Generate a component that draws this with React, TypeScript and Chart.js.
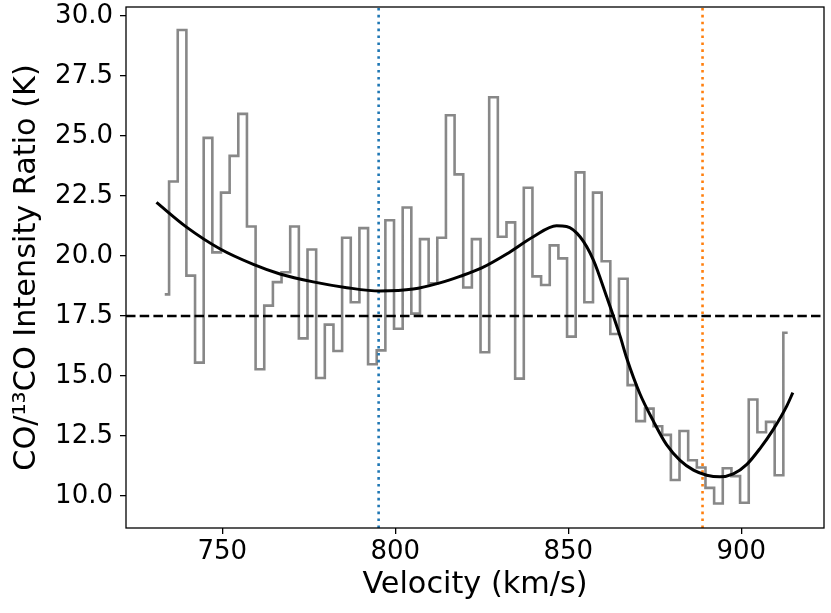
import { useEffect, useRef } from "react"
import { Chart, registerables } from "chart.js"

Chart.register(...registerables)

// velocity channels (km/s) and the measured intensity ratio per channel
const velocity = [
  733.4, 735.9, 738.4, 740.9, 743.4, 745.9, 748.4, 750.9, 753.4, 755.9,
  758.4, 760.9, 763.4, 765.9, 768.4, 770.9, 773.4, 775.9, 778.4, 780.9,
  783.4, 785.9, 788.4, 790.9, 793.4, 795.9, 798.4, 800.9, 803.4, 805.9,
  808.4, 810.9, 813.4, 815.9, 818.4, 820.9, 823.4, 825.9, 828.4, 830.9,
  833.4, 835.9, 838.4, 840.9, 843.4, 845.9, 848.4, 850.9, 853.4, 855.9,
  858.4, 860.9, 863.4, 865.9, 868.4, 870.9, 873.4, 875.9, 878.4, 880.9,
  883.4, 885.9, 888.4, 890.9, 893.4, 895.9, 898.4, 900.9, 903.4, 905.9,
  908.4, 910.9, 913.4,
]
const ratio = [
  18.4, 23.1, 29.41, 19.18, 15.56, 24.92, 20.15, 22.64, 24.17, 25.92,
  21.23, 15.28, 17.93, 18.91, 19.32, 21.23, 16.57, 20.27, 14.92, 17.14,
  16.04, 20.76, 18.07, 21.16, 15.49, 16.07, 21.49, 16.97, 22.02, 17.6,
  20.7, 18.86, 20.76, 25.86, 23.4, 18.69, 20.7, 15.99, 26.61, 20.8,
  21.4, 14.89, 22.84, 19.15, 18.79, 20.44, 19.9, 16.64, 23.48, 18.07,
  22.64, 19.78, 16.75, 19.05, 14.62, 13.12, 13.64, 12.91, 12.55, 10.67,
  12.71, 11.49, 11.19, 10.34, 9.69, 11.16, 10.83, 9.72, 14.02, 12.66,
  13.09, 10.87, 16.8,
]

// smooth fit
const fitVelocity = [
  731.0, 739.7, 749.3, 759.0, 766.7, 776.3, 786.0, 795.6, 805.2, 812.9,
  818.7, 825.0, 832.2, 839.9, 846.6, 849.5, 853.4, 857.2, 861.1, 865.0,
  866.9, 870.7, 874.6, 878.4, 882.3, 886.2, 890.0, 893.8, 897.7, 901.6,
  905.4, 909.3, 913.2, 914.9,
]
const fitRatio = [
  22.23, 21.2, 20.3, 19.65, 19.25, 18.92, 18.68, 18.54, 18.62, 18.88,
  19.15, 19.5, 20.08, 20.8, 21.26, 21.23, 20.8, 19.85, 18.3, 16.65,
  15.74, 14.26, 13.12, 12.14, 11.49, 11.08, 10.87, 10.8, 10.92, 11.32,
  11.98, 12.79, 13.77, 14.31,
]

const threshold = 17.5
const markerBlue = 795.2
const markerOrange = 888.8

const xTicks = [750, 800, 850, 900]
const yTicks = [10, 12.5, 15, 17.5, 20, 22.5, 25, 27.5, 30]
const xRange = [722.2, 923.9]
const yRange = [8.67, 30.37]

const FONT = "'DejaVu Sans', sans-serif"

export default function App() {
  const chartRef = useRef<HTMLCanvasElement>(null)
  const chartInstance = useRef<Chart | null>(null)

  useEffect(() => {
    document.body.style.margin = "0"
    if (!chartRef.current) return
    if (chartInstance.current) chartInstance.current.destroy()
    const ctx = chartRef.current.getContext("2d")
    if (!ctx) return

    // box around the axes, like matplotlib spines
    const frame = {
      id: "frame",
      afterDatasetsDraw(chart: Chart) {
        const { ctx, chartArea: a } = chart
        ctx.save()
        ctx.strokeStyle = "#000"
        ctx.lineWidth = 1.3
        ctx.strokeRect(a.left, a.top, a.right - a.left, a.bottom - a.top)
        ctx.restore()
      },
    }

    chartInstance.current = new Chart(ctx, {
      type: "line",
      data: {
        datasets: [
          {
            data: fitVelocity.map((x, i) => ({ x, y: fitRatio[i] })),
            borderColor: "#000",
            borderWidth: 3,
            pointRadius: 0,
            cubicInterpolationMode: "monotone",
          },
          {
            data: [
              { x: markerBlue, y: yRange[0] },
              { x: markerBlue, y: yRange[1] },
            ],
            borderColor: "#1f77b4",
            borderWidth: 2.6,
            borderDash: [2.6, 4.3],
            pointRadius: 0,
          },
          {
            data: [
              { x: markerOrange, y: yRange[0] },
              { x: markerOrange, y: yRange[1] },
            ],
            borderColor: "#ff7f0e",
            borderWidth: 2.6,
            borderDash: [2.6, 4.3],
            pointRadius: 0,
          },
          {
            data: [
              { x: xRange[0], y: threshold },
              { x: xRange[1], y: threshold },
            ],
            borderColor: "#000",
            borderWidth: 2.6,
            borderDash: [9.5, 4.2],
            pointRadius: 0,
          },
          {
            data: velocity.map((x, i) => ({ x, y: ratio[i] })),
            borderColor: "#888888",
            borderWidth: 2.6,
            pointRadius: 0,
            stepped: "middle",
          },
        ],
      },
      options: {
        responsive: false,
        maintainAspectRatio: false,
        animation: false,
        layout: { padding: { left: 0, top: 7, right: 7, bottom: 0 } },
        plugins: {
          legend: { display: false },
          tooltip: { enabled: false },
        },
        scales: {
          x: {
            type: "linear",
            min: xRange[0],
            max: xRange[1],
            afterBuildTicks: (scale: any) => {
              scale.ticks = xTicks.map((value) => ({ value }))
            },
            afterFit: (scale: any) => {
              scale.height = 85
              scale.paddingLeft = 0
              scale.paddingRight = 0
            },
            border: { display: false },
            grid: {
              drawOnChartArea: false,
              drawTicks: true,
              tickLength: 6,
              color: "#000",
              lineWidth: 1.3,
            },
            ticks: {
              color: "#000",
              padding: 3,
              maxRotation: 0,
              font: { family: FONT, size: 26 },
              callback: (v: any) => String(v),
            },
            title: {
              display: true,
              text: "Velocity (km/s)",
              color: "#000",
              font: { family: FONT, size: 30.3 },
              padding: { top: 0, bottom: 10 },
            },
          },
          y: {
            type: "linear",
            min: yRange[0],
            max: yRange[1],
            afterBuildTicks: (scale: any) => {
              scale.ticks = yTicks.map((value) => ({ value }))
            },
            afterFit: (scale: any) => {
              scale.width = 126
              scale.paddingTop = 0
              scale.paddingBottom = 0
            },
            border: { display: false },
            grid: {
              drawOnChartArea: false,
              drawTicks: true,
              tickLength: 6,
              color: "#000",
              lineWidth: 1.3,
            },
            ticks: {
              color: "#000",
              padding: 7,
              font: { family: FONT, size: 26 },
              callback: (v: any) => Number(v).toFixed(1),
            },
            title: {
              display: true,
              text: "CO/¹³CO Intensity Ratio (K)",
              color: "#000",
              font: { family: FONT, size: 30.3 },
              padding: { top: 8.8, bottom: 0 },
            },
          },
        },
      },
      plugins: [frame],
    })

    return () => {
      if (chartInstance.current) {
        chartInstance.current.destroy()
        chartInstance.current = null
      }
    }
  }, [])

  return (
    <div style={{ width: 831, height: 613 }}>
      <canvas ref={chartRef} width={831} height={613} style={{ display: "block" }} />
    </div>
  )
}
